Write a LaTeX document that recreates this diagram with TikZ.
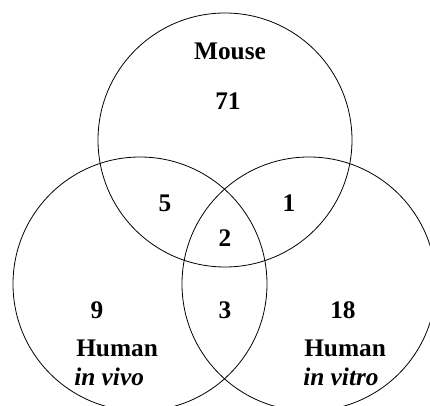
\documentclass[tikz,border=0pt]{standalone}
\usepackage{fontspec}
\setmainfont{Liberation Serif}
\begin{document}
\begin{tikzpicture}[x=0.75pt,y=-0.75pt,
  set/.style={draw,circle,line width=0.6pt,minimum size=190.5pt,inner sep=0pt},
  lbl/.style={anchor=base,inner sep=0pt,font=\fontsize{19}{21}\selectfont\bfseries}]
  \useasboundingbox (0,0) rectangle (430,406);
  \clip (0,0) rectangle (430,406);
  % the three sets
  \node [set] (mouseset) at (225,140) {};
  \node [set] (vivoset) at (140,284) {};
  \node [set] (vitroset) at (309,284) {};
  % set names
  \node [lbl] (mouse) at (230,60) {Mouse};
  \node [lbl,anchor=base west] (humanA) at (76,357) {Human};
  \node [lbl,anchor=base west] (vivo) at (74,386) {\itshape in vivo};
  \node [lbl,anchor=base west] (humanB) at (304,357) {Human};
  \node [lbl,anchor=base west] (vitro) at (303,386) {\itshape in vitro};
  % counts
  \node [lbl] (n71) at (228,110) {71};
  \node [lbl] (n5) at (165,212) {5};
  \node [lbl] (n1) at (289,212) {1};
  \node [lbl] (n2) at (225,247) {2};
  \node [lbl] (n9) at (97,319) {9};
  \node [lbl] (n3) at (225,319) {3};
  \node [lbl] (n18) at (343,319) {18};
\end{tikzpicture}
\end{document}
